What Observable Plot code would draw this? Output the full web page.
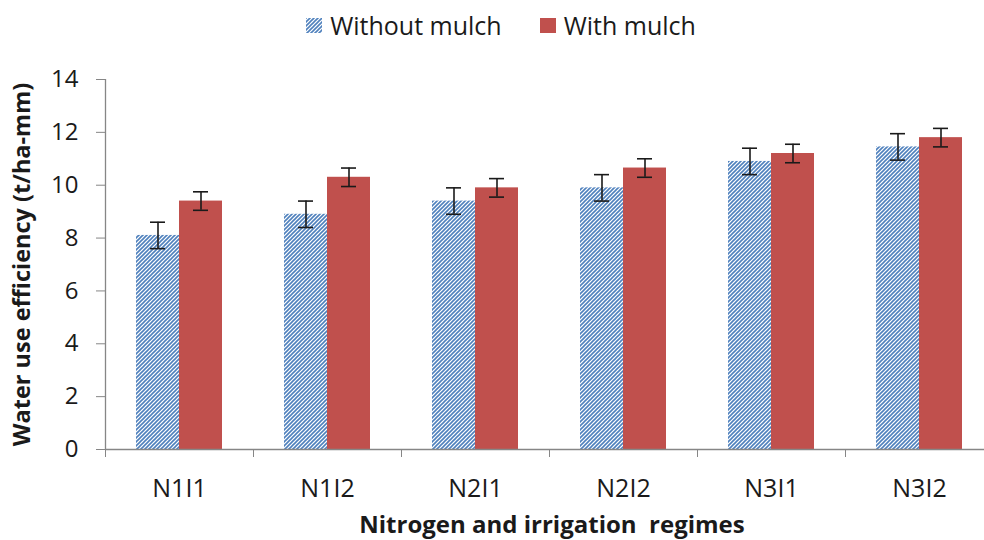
<!DOCTYPE html>
<html>
<head>
<meta charset="utf-8">
<script src="https://cdn.jsdelivr.net/npm/d3@7"></script>
<script src="https://cdn.jsdelivr.net/npm/@observablehq/plot@0.6"></script>
<style>
  body { margin: 0; background: #fff; font-family: "Open Sans", sans-serif; }
  #legend { height: 50px; display: flex; align-items: center; justify-content: center; padding-left: 18px; box-sizing: border-box; width: 984px; font-size: 25px; color: #1a1a1a; }
  .item { display: flex; align-items: center; }
  .sw { width: 16px; height: 15px; margin-right: 8px; }
</style>
</head>
<body>
<div id="legend"></div>
<div id="chart"></div>
<script>
const categories = ["N1I1", "N1I2", "N2I1", "N2I2", "N3I1", "N3I2"];
const seriesNames = ["Without mulch", "With mulch"];
const withoutMulch = [8.1, 8.9, 9.4, 9.9, 10.9, 11.45];
const withMulch = [9.4, 10.3, 9.9, 10.65, 11.2, 11.8];
const errWithout = [0.5, 0.5, 0.5, 0.5, 0.5, 0.5];
const errWith = [0.35, 0.35, 0.35, 0.35, 0.35, 0.35];
const yTicks = [0, 2, 4, 6, 8, 10, 12, 14];

const blue = "#4f81bd", red = "#c0504d", axisGray = "#868686", ink = "#1a1a1a";

const rowsA = categories.map((c, i) => ({cat: c, v: withoutMulch[i], lo: withoutMulch[i] - errWithout[i], hi: withoutMulch[i] + errWithout[i]}));
const rowsB = categories.map((c, i) => ({cat: c, v: withMulch[i], lo: withMulch[i] - errWith[i], hi: withMulch[i] + errWith[i]}));

const x0 = 105, x1 = 993;
const half = (x1 - x0) / categories.length / 2; // half band
const barW = 43, capW = 15;
const cA = half - barW / 2, cB = half + barW / 2; // centers within band

const plot = Plot.plot({
  width: 984,
  height: 490,
  marginTop: 29,
  marginBottom: 91,
  marginLeft: x0,
  marginRight: 0,
  style: {fontFamily: "Open Sans", color: ink, background: "#fff", overflow: "visible"},
  x: {domain: categories, range: [x0, x1], padding: 0, axis: null, label: null},
  y: {domain: [0, 14], axis: null, label: null},
  marks: [
    Plot.barY(rowsA, {x: "cat", y: "v", fill: "url(#hatch)", insetLeft: half - barW, insetRight: half}),
    Plot.barY(rowsB, {x: "cat", y: "v", fill: red, insetLeft: half, insetRight: half - barW}),
    Plot.ruleX(rowsA, {x: "cat", y1: "lo", y2: "hi", dx: cA - half, stroke: ink, strokeWidth: 1.6}),
    Plot.ruleX(rowsB, {x: "cat", y1: "lo", y2: "hi", dx: cB - half, stroke: ink, strokeWidth: 1.6}),
    Plot.tickY(rowsA, {x: "cat", y: "lo", insetLeft: cA - capW / 2, insetRight: 2 * half - cA - capW / 2, stroke: ink, strokeWidth: 1.6}),
    Plot.tickY(rowsA, {x: "cat", y: "hi", insetLeft: cA - capW / 2, insetRight: 2 * half - cA - capW / 2, stroke: ink, strokeWidth: 1.6}),
    Plot.tickY(rowsB, {x: "cat", y: "lo", insetLeft: cB - capW / 2, insetRight: 2 * half - cB - capW / 2, stroke: ink, strokeWidth: 1.6}),
    Plot.tickY(rowsB, {x: "cat", y: "hi", insetLeft: cB - capW / 2, insetRight: 2 * half - cB - capW / 2, stroke: ink, strokeWidth: 1.6}),
    Plot.ruleY([0], {stroke: axisGray, strokeWidth: 1.3}),
    Plot.ruleX([categories[0]], {dx: -half, stroke: axisGray, strokeWidth: 1.3}),
    Plot.axisY({ticks: yTicks, tickSize: 9, tickPadding: 18, fontSize: 24, stroke: axisGray, fill: ink, label: null}),
    Plot.axisX({ticks: categories, tickSize: 8, tickFormat: () => "", dx: -half, stroke: axisGray, label: null}),
    Plot.axisX({ticks: categories, tickSize: 0, tickPadding: 30, fontSize: 25, fill: ink, label: null}),
    Plot.text(["Water use efficiency (t/ha-mm)"], {frameAnchor: "left", rotate: -90, dx: -83, textAnchor: "middle", lineAnchor: "middle", fontSize: 23.5, fontWeight: "bold", fill: ink}),
    Plot.text(["Nitrogen and irrigation  regimes"], {frameAnchor: "bottom", dy: 76, dx: 7, lineAnchor: "middle", fontSize: 24, fontWeight: "bold", fill: ink})
  ]
});

d3.select(plot).insert("defs", ":first-child").html(
  `<pattern id="hatch" patternUnits="userSpaceOnUse" width="4" height="4">
     <rect width="4" height="4" fill="#fff"/>
     <path d="M-1,1 l2,-2 M0,4 l4,-4 M3,5 l2,-2" stroke="${blue}" stroke-width="1.6"/>
   </pattern>`
);
document.getElementById("chart").appendChild(plot);

const legend = d3.select("#legend");
seriesNames.forEach((name, i) => {
  const item = legend.append("div").attr("class", "item").style("margin-left", i ? "38px" : "0");
  const sw = item.append("svg").attr("class", "sw").attr("width", 16).attr("height", 15);
  if (i === 0) {
    sw.append("defs").html(`<pattern id="hatchL" patternUnits="userSpaceOnUse" width="4" height="4"><rect width="4" height="4" fill="#fff"/><path d="M-1,1 l2,-2 M0,4 l4,-4 M3,5 l2,-2" stroke="${blue}" stroke-width="1.6"/></pattern>`);
    sw.append("rect").attr("width", 16).attr("height", 15).attr("fill", "url(#hatchL)");
  } else {
    sw.append("rect").attr("width", 16).attr("height", 15).attr("fill", red);
  }
  item.append("span").text(name);
});
</script>
</body>
</html>
